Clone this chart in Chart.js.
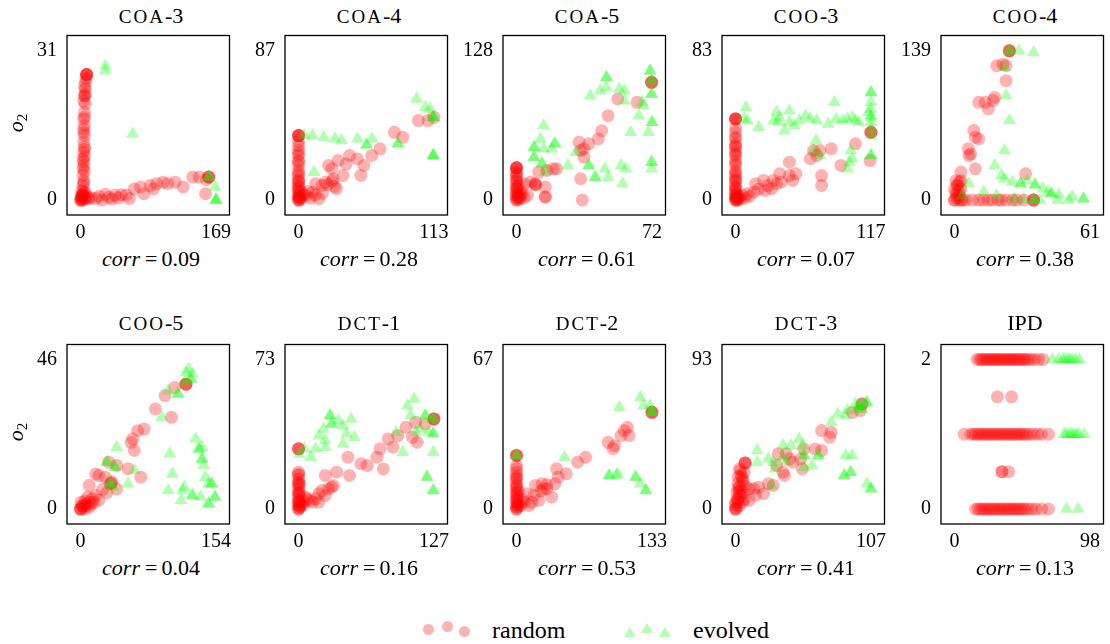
<!DOCTYPE html>
<html>
<head>
<meta charset="utf-8">
<script src="https://cdn.jsdelivr.net/npm/chart.js@4.4.1/dist/chart.umd.min.js"></script>
<style>
body{margin:0;background:#fff;}
#figura{position:relative;width:1110px;height:644px;overflow:hidden;font-family:"Liberation Serif","DejaVu Serif",serif;color:#000;}
.painel{position:absolute;}
.titulo{position:absolute;width:168px;text-align:center;font-size:22px;line-height:22px;white-space:nowrap;}
.sc{font-size:19px;letter-spacing:2px;}
.corr{position:absolute;width:168px;text-align:center;font-size:22px;line-height:22px;white-space:nowrap;}
.igual{margin:0 4px 0 5px;}
.ylab{position:absolute;width:30px;text-align:center;font-size:22px;line-height:20px;transform:rotate(-90deg);}
.ylab sub{font-size:15px;font-style:normal;vertical-align:-4px;line-height:0;}
.circulo{position:absolute;width:11px;height:11px;border-radius:50%;background:#ffb3b3;}
.triangulo{position:absolute;width:0;height:0;border-left:6px solid transparent;border-right:6px solid transparent;border-bottom:10px solid #b3ffb3;}
.legenda-texto{position:absolute;font-size:24px;line-height:24px;}
</style>
</head>
<body>
<div id="figura"></div>
<script>
// ==========================
// DADOS
// ==========================
const titulos = ["COA-3","COA-4","COA-5","COO-3","COO-4","COO-5","DCT-1","DCT-2","DCT-3","IPD"];
const xMaximos = [169,113,72,117,61,154,127,133,107,98];
const yMaximos = [31,87,128,83,139,46,73,67,93,2];
const correlacoes = ["0.09","0.28","0.61","0.07","0.38","0.04","0.16","0.53","0.41","0.13"];

const coa3Random = [
[7.6,26],[7.6,26],[7.6,26],[7.6,26],[7,25.2],[6,24.4],[6,23],[5,21.6],[5,21.6],[6,19.9],[5,18.2],[4,16.8],[5,15.5],[4,14.7],[5,13.4],[4,12],[5,11],[4,9.9],[5,9],[3,8.5],[4,7.2],[5,6],[3,5.1],[4,4],[3,3],[2,2],[4,1.7],[1,0.5],[0,0],[0,0],[1,0],[2,0.3],[3,0],[5,0.5],[6,0.2],[8,0.8],[10,0.3],[2,1.2],[6,1.5],
[4,20.5],[5,17.2],[4,14],[5,10.5],[4,8],[3,6.5],[4,3.5],[2,1],[1,0.8],[3,1],[5,23.5],[6,22],
[13,0.5],[19,0.3],[23,0.8],[27,0],[31,1.2],[35,0.6],[39,0.2],[43,1],[47,0.4],[51,1.1],[57,1],[61,0.3],[67,2.3],[75,2.7],[79,1.3],[87,3],[91,2.3],[95,3.4],[103,3.7],[109,3.4],[118,3.7],[128,2.7],[140,4.75],[148,4.75],[156,1.3],[160,4.75],[160,4.75],[160,4.75],[157,4.2]
];
const coa3Evolved = [[31,27.8],[31,26.8],[65,13.7],[160,4.75],[160,4.75],[168,2.7],[169,0],[169,0],[169,0]];

const coa4Random = [
[0,37.5],[0,37.5],[0,37.5],[0,37.5],[0,34],[0,31.7],[0,29],[0,25.9],[0,23],[0,20],[0,17],[0,14.3],[0,12],[0,10.4],[0,8.5],[0,6.6],[0,4.5],[0,2.7],[0,1],[0,0],[0,0],[1,0],[2,1],[1,3],[2,5],
[0,27],[0,22],[0,15.5],[0,11],[0,7.5],[0,5.5],[0,2],[1,1.5],
[6.2,2.7],[11.6,4.6],[14.3,9.5],[17,0.8],[19.6,8.5],[22.3,10.4],[25,20.1],[27.7,18.2],[29,12.4],[31.7,6.6],[33,23],[37,14.3],[39.8,21],[42.5,25.9],[49,24],[52,14.3],[54.6,20.1],[61,25.9],[68,29.8],[80,39.4],[87,36.5],[100,46.2],[108,46.2],[113,48.1],
[4,3],[8,5],[10,1],[14,3],[20,4],[24,9],[28,11],[30,8]
];
const coa4Evolved = [[4.8,37.5],[11.6,37.5],[21,36.5],[30.4,35.6],[35.8,34.6],[49.2,35.6],[56.8,32.1],[56.8,32.1],[61.3,35.6],[82.9,32.7],[82.9,32.7],[12.9,16.2],[98.5,58.8],[105.7,53.9],[109.7,53],[112.4,48.1],[112.4,48.1],[112.4,48.1],[112.4,25.9],[112.4,25.9],[112.4,25.9]];

const coa5Random = [
[0,27.6],[0,27.6],[0,27.6],[0,27.6],[0,24],[0,21],[0,18],[0,15.4],[0,12],[0,9.7],[0,7],[0,4],[0,2],[0,0],[0,0],[1,1],[2,3],[1,6],[2,8],[1,12],
[0,22],[0,16.5],[0,10.5],[0,5.5],[1,3],[2,1],
[4.1,13.9],[5.8,4],[7.5,15.4],[10.1,13.1],[10.1,13.1],[11.8,23.9],[15.3,11.1],[15.3,2.6],[15.3,2.6],[16.1,25.3],[19.5,26.7],[21.3,26.7],[33.3,49.5],[34.1,18.2],[34.1,42.4],[35.8,36.7],[35.8,43.8],[38.4,48.1],[43.5,52.3],[45.3,59.4],[48.7,72.2],[53.8,86.5],[64.1,83.6],[71.8,100.7],[71.8,100.7],[71.8,100.7],[35,0],[3,6],[4,2],[10,14]
];
const coa5Evolved = [[9.3,45.2],[9.3,45.2],[9.3,36.7],[9.3,36.7],[14.4,63.7],[12.7,52.3],[14.4,43.8],[18.7,43.8],[20.4,48.1],[20.4,48.1],[13.5,31],[13.5,31],[15.3,23.9],[27.3,29.6],[31.5,41],[38.4,29.6],[38.4,29.6],[41.8,19.6],[41.8,19.6],[47,26.7],[48.7,19.6],[55.5,29.6],[58.1,26.7],[56.4,13.9],[60.7,58],[65,72.2],[66.7,83.6],[70.1,58],[71.8,32.4],[71.8,32.4],[71.8,26.7],[39.3,89.3],[44.4,93.6],[47.8,105],[47.8,105],[47.8,96.4],[54.7,95],[57.3,93.6],[57.3,85],[71,110.6],[71,110.6],[71.8,102],[71.8,102],[71.8,90.7],[71.8,90.7],[72,66.5],[72,66.5],[67.5,80.8]];

const coo3Random = [
[0,45],[0,45],[0,45],[0,45],[0,40],[0,37.6],[0,35],[0,33.9],[0,31],[0,29.3],[0,27],[0,24.7],[0,22],[0,19.2],[0,16],[0,13.6],[0,12],[0,10],[0,8],[0,6.3],[0,4],[0,2.6],[0,1],[0,0],[0,0],[1,0],[2,1],[1,3],[3,2],[4,0.5],
[0,30],[0,25.5],[0,20.5],[0,15],[0,11],[0,7],[0,5],[0,2],[1,1],[2,0],
[6.1,2.6],[10.3,3.5],[15.9,4.4],[17.3,9],[24.2,10.9],[25.6,5.3],[31.2,6.3],[32.6,10.9],[35.4,9],[38.2,14.6],[39.6,10],[46.5,13.6],[49.3,10.9],[52.1,14.6],[46.5,21],[64.6,22.9],[67.4,27.5],[73,27.5],[70.2,24.7],[74.4,13.6],[74.4,8.1],[82.7,28.4],[91.1,19.2],[103.6,31.2],[117,37.6],[117,37.6],[117,37.6],[116.2,21.9],[8,1],[12,2],[20,6],[28,8]
];
const coo3Evolved = [[8.9,51.4],[7.5,45],[10.3,44.1],[20.1,40.4],[35.4,48.7],[46.5,49.6],[36.8,43.1],[42.3,38.5],[46.5,43.1],[50.7,41.3],[60.5,46.8],[64.6,45],[70.2,44.1],[80,42.2],[85.5,54.2],[86.9,45],[92.5,44.1],[96.7,45],[100.9,45.9],[103.6,44.1],[106.4,43.1],[117,59.7],[117,59.7],[117,54.2],[117,50.5],[117,46.8],[117,43.1],[117,39.5],[117,35.8],[117,24.7],[117,24.7],[114.8,48.7],[117,45.9],[69.6,33],[67.4,27.5],[99.5,27.5],[98.1,21],[96.7,17.3],[100.9,22.9],[73,24.7],[38,46],[33,44],[55,44]];

const coo4Random = [
[0.7,18.2],[2.2,16.7],[1.5,13.6],[2.9,10.5],[0.7,7.4],[2.2,4.3],[0,0],[0,0],[1,2],[2,0],[3,0],[3.6,0],[5.1,0],[8,0],[10.9,0],[13,0],[15.2,0],[17,0],[19.6,0],[21,0],[23.2,0],[26.1,0],[28,0],[31.2,0],[35.6,0],[35.6,0],[35.6,0],[1,14],[3,18],[2,8],[0,10],[1,5],
[2.9,26],[9.4,29],[6.2,47.6],[7.3,42.9],[6.5,41.3],[8.7,64.6],[9.4,58.4],[10.9,56.8],[10.9,90.8],[13.8,90.8],[15.2,84.6],[17.4,92.4],[18.1,95.4],[19,124.8],[21.8,126.3],[23.2,124.8],[23.2,110.9],[24.7,138.7],[24.7,138.7],[24.7,138.7],[32,24.4]
];
const coo4Evolved = [[24.7,138.7],[24.7,138.7],[29,138.7],[35.6,137.2],[22.5,123.3],[23.2,97],[24.7,73.8],[22.5,46],[18.1,32.1],[21.1,22.9],[22.5,19.8],[26.1,16.7],[29.8,15.1],[29.8,15.1],[32.7,18.2],[36.3,14.2],[36.3,14.2],[39.9,10.5],[42.1,7.4],[43.6,5.9],[43.6,5.9],[46.5,0],[51.5,0],[58.1,1.2],[58.1,1.2],[35.6,0],[35.6,0],[38.5,0],[31.2,0],[26.9,1.2],[18.9,4.3],[13.1,7.4],[6.5,15.1],[3.6,4.3],[47,5],[53,3]];

const coo5Random = [
[0,0],[0,0],[0,0],[2.6,0.6],[6.2,1.6],[0.7,2.1],[9.9,2.1],[13.6,3.2],[20.9,2.7],[17.2,4.2],[8.1,3.7],[4.4,0],[3,1],[5,2.5],[10,0.5],[1,1],[7,1],[12,1.5],[15,2],
[9.9,7.3],[17.2,10.8],[20.9,10.3],[28.2,9.8],[31.9,14.4],[35.6,8.3],[33.7,7.8],[41.1,13.4],[41.1,6.2],[53.9,12.4],[59.4,21.6],[57.6,20.5],[61.2,18],[64.9,24.1],[68.6,9.8],[72.2,24.6],[85.1,30.8],[96.1,34.9],[103.4,28.2],[107.1,37.4],[119.9,38.4],[119.9,38.4],[119.9,38.4],[25,6],[30,5],[35,8]
];
const coo5Evolved = [[30.1,14.4],[30.1,14.4],[39.2,12.9],[39.2,12.9],[33.7,7.8],[33.7,7.8],[41.1,19],[53.9,7.8],[61.2,11.9],[37.4,6.7],[92.4,28.2],[99.7,36.4],[110.7,35.4],[110.7,35.4],[118.1,38.9],[127.2,41.5],[125.4,40],[125.4,40],[130.9,21.6],[134.6,18.5],[134.6,18.5],[138.2,19],[101.6,17],[104.5,10.8],[99.7,5.7],[116.2,5.7],[118.1,6.7],[127.2,4.2],[127.2,4.2],[138.2,15.4],[138.2,15.4],[140.1,13.4],[141.9,9.8],[145.6,7.8],[149.2,7.8],[149.2,7.8],[152.9,3.7],[152.9,3.7],[145.6,1.6],[145.6,1.6],[136.4,3.7],[114.4,2.7],[120,42],[123,43]];

const dct1Random = [
[0,29.4],[0,29.4],[0,29.4],[0,18],[0,16.4],[0,14.7],[0,13.1],[0,11.5],[0,9.9],[0,8.2],[0,6.6],[0,5],[0,3.4],[0,1.7],[0,0],[0,0],[1,1],[1,4],[1,8],[1,12],[2,2],
[0,17],[0,12.5],[0,7.5],[0,4],[0,2.5],[1,0.5],
[5.4,3.4],[8.5,5],[13,3.4],[16,5],[19.1,7.5],[22.1,9.1],[25.1,6.6],[28.1,9.9],[31.1,10.7],[32.7,11.5],[19.1,3.4],[25.1,16.4],[35.7,18],[47.8,16.4],[46.3,25.3],[58.4,22.1],[64.4,21.2],[73.5,25.3],[76.5,29.4],[79.5,19.6],[84.1,34.2],[88.6,30.2],[93.1,35.8],[100.7,39.9],[106.7,35],[109.8,42.3],[111.3,32.6],[118.8,41.5],[127,44],[127,44],[127,44],[4,2],[10,4],[6,6]
];
const dct1Evolved = [[0.9,26.9],[5.4,29.4],[11.5,25.3],[16,29.4],[19.1,35.8],[23.6,39.1],[25.1,33.4],[25.1,30.2],[29.6,45.6],[29.6,45.6],[31.1,41.5],[31.1,41.5],[37.2,43.1],[41.7,40.7],[49.3,44],[44.8,36.7],[41.7,31.8],[52.3,35],[91.6,37.5],[97.7,27.7],[102.2,50.4],[108.3,53.7],[105.2,45.6],[109.8,37.5],[114.3,39.1],[118.8,45.6],[118.8,45.6],[126.4,44],[126.4,44],[121.9,37.5],[126.4,36.7],[126.4,36.7],[126.4,27.7],[120.4,15.6],[120.4,15.6],[126.4,9.1],[126.4,9.1]];

const dct2Random = [
[0,24],[0,24],[0,24],[0,19.5],[0,18],[0,16.5],[0,15],[0,13.5],[0,12],[0,10.6],[0,9],[0,7.6],[0,6],[0,4.6],[0,3],[0,1.6],[0,0],[0,0],[1,1],[1,5],[2,2],[2,8],
[0,14],[0,10],[0,7],[0,4],[0,1],[1,2.5],
[4.4,1.6],[7.6,3.1],[10.8,6.8],[12.4,1.6],[17.1,6.1],[18.7,10.6],[21.9,3.9],[25,11.3],[26.6,9.1],[29.8,9.1],[34.5,5.4],[37.7,11.3],[39.3,18],[40.9,14.3],[48.8,15.8],[59.9,21],[67.8,23.2],[89.9,29.9],[94.7,27],[96.3,28.4],[102.6,32.9],[105.8,35.1],[108.9,36.6],[110.5,32.9],[133,43.3],[133,43.3],[133,43.3],[6,4],[15,3],[24,8],[30,11]
];
const dct2Evolved = [[0,24],[0,24],[47.2,23.2],[90.9,15],[90.9,15],[99.4,15.8],[101,45.6],[116.9,14.3],[116.9,14.3],[121.6,11.3],[127,8.3],[127,8.3],[121.6,50],[124.8,46.3],[131.1,46.3],[133,43.3],[133,43.3],[133,43.3],[98,15]];

const dct3Random = [
[7.6,28.7],[7.6,28.7],[7.6,28.7],[0.5,0.2],[1.8,4.3],[3.1,8.5],[4.3,12.6],[5.6,16.7],[4.3,20.9],[3.1,25],[6.9,22.9],[1.8,12.6],[0,2.3],[5.6,4.3],[4.3,8.5],[0,0],[0,0],[2,6],[3,14],[6,18],[2,20],[1,10],[6,10],[8,14],[3,2],[7,6],
[2,16],[4,24],[1,6],[3,11],[5,20],[0,4],
[10.7,12.6],[14.5,12.6],[18.3,13.6],[22.2,9.5],[15.8,8.5],[10.7,5.4],[26,15.7],[29.8,14.7],[32.4,27.1],[33.6,34.3],[37.5,22.9],[38.7,20.9],[42.6,31.2],[45.1,29.1],[40,34.3],[51.5,31.2],[52.7,25],[54,37.4],[62.9,37.4],[68,36.4],[68,48.8],[74.4,44.6],[75.6,47.7],[92.2,60.1],[98.6,61.2],[99.9,65.3],[99.9,65.3]
];
const dct3Evolved = [[17.1,36.4],[17.1,29.1],[26,31.2],[29.8,29.1],[31.1,25],[28.5,14.7],[37.5,39.5],[43.8,39.5],[37.5,32.2],[40,29.1],[50.2,43.6],[52.7,39.5],[54,33.3],[54,33.3],[54,26],[60.4,27.1],[65.5,33.3],[65.5,33.3],[75.7,53.9],[80.8,59.1],[87.1,58.1],[87.1,33.3],[92.2,33.3],[85.9,20.9],[85.9,20.9],[91,22.9],[91,22.9],[103.7,15.7],[107,12.6],[107,12.6],[94.8,65.3],[97.3,64.3],[101.2,65.3],[103.7,66.3],[103.7,66.3],[96.1,62.2],[88.4,61.2],[98,63],[100,62]];

const ipdRandom = [
[16.3,2],[18.1,2],[19.4,2],[20.8,2],[22.5,2],[23.6,2],[25.2,2],[26.4,2],[27.9,2],[29.3,2],[30.5,2],[31.8,2],[33.4,2],[34.6,2],[36.1,2],[37.5,2],[38.7,2],[40.2,2],[41.6,2],[42.9,2],[44.3,2],[45.8,2],[47.1,2],[48.6,2],[50.2,2],[51.4,2],[53.1,2],[55.3,2],[57.6,2],[60.8,2],[64,2],
[31,1.5],[41.3,1.5],
[7,1],[11.7,1],[13.5,1],[15.2,1],[16.9,1],[18.6,1],[20.1,1],[21.7,1],[23.4,1],[24.8,1],[26.5,1],[28.1,1],[29.6,1],[31.3,1],[32.8,1],[34.5,1],[36.1,1],[37.6,1],[39.3,1],[40.8,1],[42.4,1],[44.1,1],[45.6,1],[47.2,1],[48.9,1],[50.5,1],[52.2,1],[54.6,1],[57.1,1],[60.2,1],[63,1],[68,1],
[34.3,0.5],[34.3,0.5],[39.2,0.5],
[15.2,0],[17,0],[18.7,0],[20.3,0],[22,0],[23.5,0],[25.1,0],[26.8,0],[28.4,0],[29.9,0],[31.6,0],[33.2,0],[34.7,0],[36.4,0],[38,0],[39.5,0],[41.2,0],[42.8,0],[44.3,0],[46,0],[47.6,0],[49.3,0],[51,0],[53.2,0],[55.8,0],[58.9,0],[63,0],[68,0]
];
const ipdEvolved = [[70.7,2],[75.4,2],[78.2,2],[79.6,2],[81.7,2],[83.2,2],[85.2,2],[87.5,2],[90.3,2],[79.3,1],[80.9,1],[82.8,1],[84.6,1],[86.3,1],[88,1],[89.8,1],[93.8,1],[81,0],[89.4,0]];

const dadosRandom = [coa3Random,coa4Random,coa5Random,coo3Random,coo4Random,coo5Random,dct1Random,dct2Random,dct3Random,ipdRandom];
const dadosEvolved = [coa3Evolved,coa4Evolved,coa5Evolved,coo3Evolved,coo4Evolved,coo5Evolved,dct1Evolved,dct2Evolved,dct3Evolved,ipdEvolved];

// ==========================
// LAYOUT
// ==========================
const colunasX = [67,285,503,722,941];
const linhasY = [33,342];
const fonteSerif = "'Liberation Serif','DejaVu Serif',serif";

// moldura preta: segue os limites das escalas
const moldura = {
    id:"moldura",
    afterDraw(chart){
        const sx = chart.scales.x;
        const sy = chart.scales.y;
        const esq = sx.getPixelForValue(sx.min);
        const dir = sx.getPixelForValue(sx.max);
        const topo = sy.getPixelForValue(sy.max);
        const base = sy.getPixelForValue(sy.min);
        const ctx = chart.ctx;
        ctx.save();
        ctx.strokeStyle = "#000";
        ctx.lineWidth = 1.3;
        ctx.strokeRect(esq, topo, dir - esq, base - topo);
        ctx.restore();
    }
};

function formatarTitulo(t){
    if(t === "IPD") return t;
    const [letras, num] = t.split("-");
    return `<span class="sc">${letras}</span>-${num}`;
}

const figura = document.getElementById("figura");

titulos.forEach((titulo, i) => {

    const L = colunasX[i % 5];
    const T = linhasY[Math.floor(i / 5)];
    const ajuste = i < 5 ? 0 : -2;

    figura.innerHTML += `
    <div class="titulo" style="left:${L}px;top:${T - 28 + ajuste}px;">${formatarTitulo(titulo)}</div>
    <div class="painel" style="left:${L - 50}px;top:${T - 5}px;"><canvas id="graf${i}" width="220" height="217"></canvas></div>
    <div class="corr" style="left:${L}px;top:${T + 215}px;"><i>corr</i><span class="igual">=</span>${correlacoes[i]}</div>
    `;

    if(i % 5 === 0){
        figura.innerHTML += `<div class="ylab" style="left:1px;top:${T + 80}px;"><i>o</i><sub>2</sub></div>`;
    }
});

// ==========================
// LEGENDA
// ==========================
figura.innerHTML += `
<div class="circulo" style="left:423px;top:624px;"></div>
<div class="circulo" style="left:442px;top:621px;"></div>
<div class="circulo" style="left:459px;top:626px;"></div>
<div class="legenda-texto" style="left:492px;top:618px;">random</div>
<div class="triangulo" style="left:624px;top:627px;"></div>
<div class="triangulo" style="left:641px;top:623px;"></div>
<div class="triangulo" style="left:659px;top:627px;"></div>
<div class="legenda-texto" style="left:693px;top:618px;">evolved</div>
`;

// ==========================
// GRAFICOS
// ==========================
function paraPontos(lista){
    return lista.map(p => ({x:p[0], y:p[1]}));
}

function eixo(maximo, horizontal){
    return {
        type:"linear",
        min:-0.1 * maximo,
        max:1.1 * maximo,
        grid:{display:false, drawTicks:false},
        border:{display:false},
        afterBuildTicks:function(scale){
            scale.ticks = [{value:0},{value:maximo}];
        },
        afterFit:function(scale){
            if(horizontal){
                scale.height = 30;
                scale.paddingLeft = 0;
                scale.paddingRight = 0;
            } else {
                scale.width = 50;
                scale.paddingTop = 0;
                scale.paddingBottom = 0;
            }
        },
        ticks:{
            color:"#000",
            font:{family:fonteSerif, size:20},
            padding:horizontal ? 6 : 10,
            maxRotation:0,
            autoSkip:false,
            callback:function(v){ return String(v); }
        }
    };
}

titulos.forEach((titulo, i) => {

    const ctx = document.getElementById("graf" + i).getContext("2d");

    new Chart(ctx,{
        type:"scatter",
        data:{
            datasets:[
                {
                    label:"evolved",
                    data:paraPontos(dadosEvolved[i]),
                    pointStyle:"triangle",
                    pointRadius:7.5,
                    pointHoverRadius:7.5,
                    backgroundColor:"rgba(0,255,0,0.3)",
                    borderWidth:0,
                    order:0
                },
                {
                    label:"random",
                    data:paraPontos(dadosRandom[i]),
                    pointStyle:"circle",
                    pointRadius:6.5,
                    pointHoverRadius:6.5,
                    backgroundColor:"rgba(255,0,0,0.3)",
                    borderWidth:0,
                    order:1
                }
            ]
        },
        options:{
            responsive:false,
            animation:false,
            devicePixelRatio:1,
            layout:{padding:{top:2, right:2, left:0, bottom:0}},
            plugins:{
                legend:{display:false},
                tooltip:{enabled:false}
            },
            scales:{
                x:eixo(xMaximos[i], true),
                y:eixo(yMaximos[i], false)
            }
        },
        plugins:[moldura]
    });
});
</script>
</body>
</html>
